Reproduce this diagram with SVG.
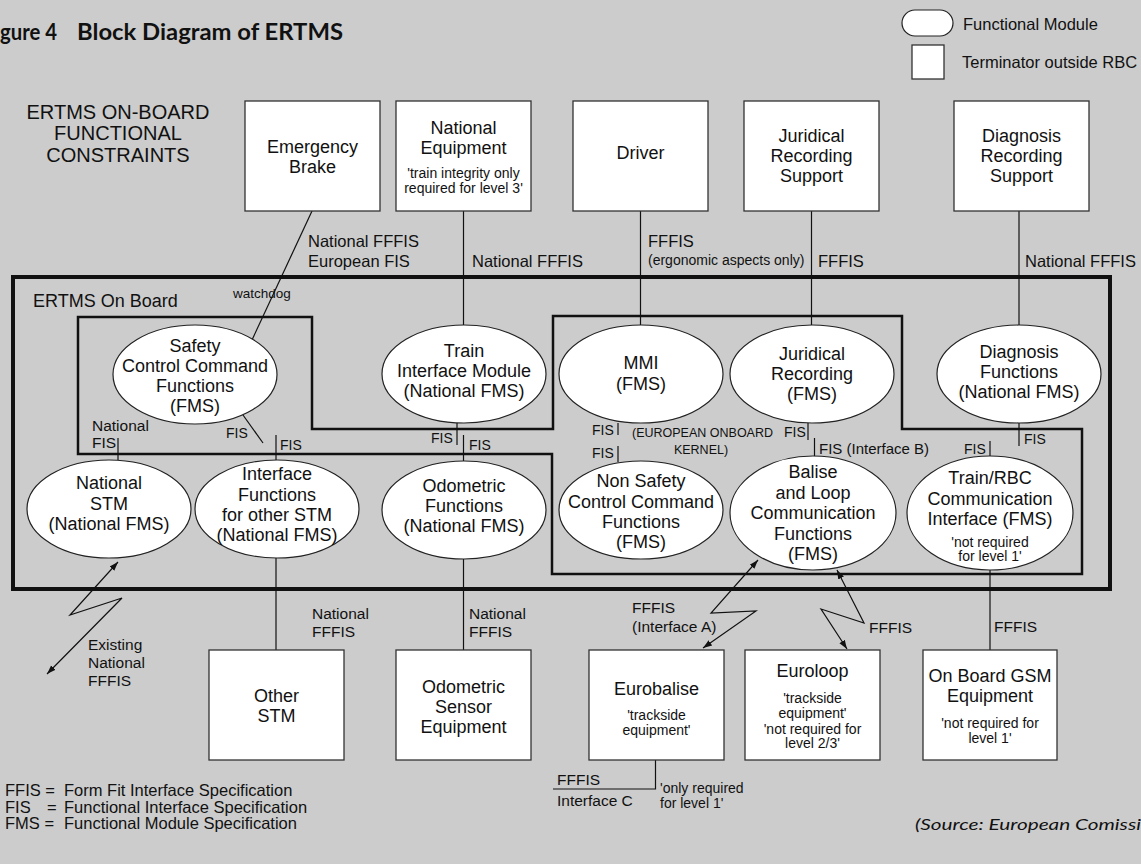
<svg xmlns="http://www.w3.org/2000/svg" width="1141" height="864" viewBox="0 0 1141 864">
<style>
  text { font-family: "Liberation Sans", Arial, sans-serif; fill: #111; }
  .t18 { font-size: 18px; text-anchor: middle; }
  .s14 { font-size: 14px; text-anchor: middle; }
  .lab { font-size: 16.5px; }
  .lab15 { font-size: 15.5px; }
  .fis { font-size: 14px; }
  .reg { font-size: 16.5px; }
  .title { font-family: Lato, "Open Sans", "Liberation Sans", sans-serif; font-weight: bold; font-size: 22px; }
  .src { font-family: Lato, "Open Sans", "Liberation Sans", sans-serif; font-style: italic; font-size: 16px; }
  .box { fill: #fff; stroke: #333; stroke-width: 1.3; }
  .ell { fill: #fff; stroke: #222; stroke-width: 1.2; }
  .con line, .con polyline { stroke: #111; stroke-width: 1.2; fill: none; }
  .arr { marker-start: url(#ah); marker-end: url(#ah); }
</style>
<defs>
  <marker id="ah" viewBox="0 0 10 10" refX="10" refY="5" markerWidth="9" markerHeight="9" markerUnits="userSpaceOnUse" orient="auto-start-reverse">
    <path d="M0,1.5 L10,5 L0,8.5 z" fill="#111"/>
  </marker>
</defs>
<rect x="0" y="0" width="1141" height="864" fill="#cccccc"/>

<g id="title">
  <text class="title" x="0" y="40" textLength="57" lengthAdjust="spacingAndGlyphs">gure 4</text>
  <text class="title" x="77" y="40" textLength="266" lengthAdjust="spacingAndGlyphs">Block Diagram of ERTMS</text>
</g>

<g id="legend">
  <rect x="902" y="10" width="51" height="26" rx="13" ry="13" class="ell"/>
  <text class="reg" x="963" y="30">Functional Module</text>
  <rect x="912" y="45" width="32" height="34" class="box"/>
  <text class="reg" x="962" y="68">Terminator outside RBC</text>
</g>

<g id="constraints-label">
  <text x="118" y="119" font-size="20" text-anchor="middle">ERTMS ON-BOARD</text>
  <text x="118" y="140" font-size="20" text-anchor="middle">FUNCTIONAL</text>
  <text x="118" y="162" font-size="20" text-anchor="middle">CONSTRAINTS</text>
</g>

<g id="onboard-frame">
  <rect x="13" y="277" width="1097" height="312" fill="none" stroke="#111" stroke-width="4"/>
  <text x="33" y="307" font-size="18">ERTMS On Board</text>
  <polygon points="78,317 312,317 312,429 553,429 553,316 902,316 902,429 1082,429 1082,574 552,574 552,454 78,454" fill="none" stroke="#111" stroke-width="2.5"/>
  <text x="702.5" y="437" font-size="12.5" text-anchor="middle">(EUROPEAN ONBOARD</text>
  <text x="701" y="454" font-size="12.5" text-anchor="middle">KERNEL)</text>
</g>

<g id="connectors" class="con">
  <line x1="312" y1="211" x2="252" y2="340"/>
  <line x1="463.5" y1="211" x2="463.5" y2="325"/>
  <line x1="640.5" y1="211" x2="640.5" y2="325"/>
  <line x1="811.5" y1="211" x2="811.5" y2="325"/>
  <line x1="1019" y1="211" x2="1019" y2="325"/>
  <line x1="118" y1="438" x2="118" y2="460"/>
  <line x1="243" y1="415" x2="263" y2="443"/>
  <line x1="276" y1="435" x2="276" y2="460"/>
  <line x1="276" y1="558" x2="276" y2="650"/>
  <line x1="457" y1="423" x2="457" y2="445"/>
  <line x1="463.5" y1="435" x2="463.5" y2="461"/>
  <line x1="463.5" y1="559" x2="463.5" y2="650"/>
  <line x1="618" y1="423" x2="618" y2="435"/>
  <line x1="618" y1="446" x2="618" y2="462"/>
  <line x1="808" y1="423" x2="808" y2="440"/>
  <line x1="814.5" y1="438" x2="814.5" y2="457"/>
  <line x1="1019" y1="423" x2="1019" y2="446"/>
  <line x1="990" y1="441" x2="990" y2="456"/>
  <line x1="990" y1="570" x2="990" y2="650"/>
  <polyline points="655.5,760 655.5,789 553,789"/>
  <polyline class="arr" points="118,562 70,615 122,598 47,674"/>
  <polyline class="arr" points="758,560 711,613 756,611 703,648"/>
  <polyline class="arr" points="837,570 864,623 821,609 847,649"/>
</g>

<g id="connector-labels">
  <text class="lab" x="308" y="247">National FFFIS</text>
  <text class="lab" x="308" y="267">European FIS</text>
  <text x="233" y="298" font-size="13.5">watchdog</text>
  <text class="lab" x="472" y="267">National FFFIS</text>
  <text class="lab" x="648" y="247">FFFIS</text>
  <text x="648" y="265" font-size="14">(ergonomic aspects only)</text>
  <text class="lab" x="818" y="267">FFFIS</text>
  <text class="lab" x="1025" y="267">National FFFIS</text>
  <text class="lab15" x="92" y="431">National</text>
  <text class="lab15" x="92" y="448">FIS</text>
  <text class="fis" x="226" y="438">FIS</text>
  <text class="fis" x="280" y="450">FIS</text>
  <text class="fis" x="431" y="443">FIS</text>
  <text class="fis" x="469" y="450">FIS</text>
  <text class="fis" x="592" y="435">FIS</text>
  <text class="fis" x="592" y="458">FIS</text>
  <text class="fis" x="784" y="437">FIS</text>
  <text x="819" y="454" font-size="15">FIS (Interface B)</text>
  <text class="fis" x="964" y="454">FIS</text>
  <text class="fis" x="1024" y="444">FIS</text>
  <text class="lab15" x="88" y="650">Existing</text>
  <text class="lab15" x="88" y="668">National</text>
  <text class="lab15" x="88" y="686">FFFIS</text>
  <text class="lab15" x="312" y="619">National</text>
  <text class="lab15" x="312" y="637">FFFIS</text>
  <text class="lab15" x="469" y="619">National</text>
  <text class="lab15" x="469" y="637">FFFIS</text>
  <text class="lab15" x="632" y="613">FFFIS</text>
  <text class="lab15" x="632" y="632">(Interface A)</text>
  <text class="lab15" x="869" y="633">FFFIS</text>
  <text class="lab15" x="994" y="632">FFFIS</text>
  <text class="lab15" x="557" y="785">FFFIS</text>
  <text class="lab15" x="557" y="806">Interface C</text>
  <text x="660" y="793" font-size="14">'only required</text>
  <text x="660" y="808" font-size="14">for level 1'</text>
</g>

<g id="emergency-brake">
  <rect x="245" y="101" width="135" height="110" class="box"/>
  <text class="t18" x="312.5" y="153">Emergency</text>
  <text class="t18" x="312.5" y="173">Brake</text>
</g>
<g id="national-equipment">
  <rect x="396" y="101" width="135" height="110" class="box"/>
  <text class="t18" x="463.5" y="134">National</text>
  <text class="t18" x="463.5" y="154">Equipment</text>
  <text class="s14" x="463.5" y="178">'train integrity only</text>
  <text class="s14" x="463.5" y="193">required for level 3'</text>
</g>
<g id="driver">
  <rect x="573" y="101" width="135" height="110" class="box"/>
  <text class="t18" x="640.5" y="159">Driver</text>
</g>
<g id="juridical-recording-support">
  <rect x="744" y="101" width="135" height="110" class="box"/>
  <text class="t18" x="811.5" y="142">Juridical</text>
  <text class="t18" x="811.5" y="162">Recording</text>
  <text class="t18" x="811.5" y="182">Support</text>
</g>
<g id="diagnosis-recording-support">
  <rect x="954" y="101" width="135" height="110" class="box"/>
  <text class="t18" x="1021.5" y="142">Diagnosis</text>
  <text class="t18" x="1021.5" y="162">Recording</text>
  <text class="t18" x="1021.5" y="182">Support</text>
</g>

<g id="safety-control">
  <ellipse cx="195" cy="374.5" rx="82" ry="49.5" class="ell"/>
  <text class="t18" x="195" y="352">Safety</text>
  <text class="t18" x="195" y="372">Control Command</text>
  <text class="t18" x="195" y="392">Functions</text>
  <text class="t18" x="195" y="412">(FMS)</text>
</g>
<g id="train-interface">
  <ellipse cx="464" cy="374" rx="82" ry="49" class="ell"/>
  <text class="t18" x="464" y="357">Train</text>
  <text class="t18" x="464" y="377">Interface Module</text>
  <text class="t18" x="464" y="397">(National FMS)</text>
</g>
<g id="mmi">
  <ellipse cx="641" cy="374" rx="82" ry="49" class="ell"/>
  <text class="t18" x="641" y="369">MMI</text>
  <text class="t18" x="641" y="390">(FMS)</text>
</g>
<g id="juridical-recording">
  <ellipse cx="812" cy="374" rx="82" ry="49" class="ell"/>
  <text class="t18" x="812" y="360">Juridical</text>
  <text class="t18" x="812" y="380">Recording</text>
  <text class="t18" x="812" y="400">(FMS)</text>
</g>
<g id="diagnosis-functions">
  <ellipse cx="1019" cy="374" rx="82" ry="49" class="ell"/>
  <text class="t18" x="1019" y="358">Diagnosis</text>
  <text class="t18" x="1019" y="378">Functions</text>
  <text class="t18" x="1019" y="398">(National FMS)</text>
</g>
<g id="national-stm">
  <ellipse cx="109" cy="509" rx="82" ry="49" class="ell"/>
  <text class="t18" x="109" y="489">National</text>
  <text class="t18" x="109" y="510">STM</text>
  <text class="t18" x="109" y="530">(National FMS)</text>
</g>
<g id="interface-functions">
  <ellipse cx="277" cy="509" rx="82" ry="49" class="ell"/>
  <text class="t18" x="277" y="480">Interface</text>
  <text class="t18" x="277" y="501">Functions</text>
  <text class="t18" x="277" y="521">for other STM</text>
  <text class="t18" x="277" y="541">(National FMS)</text>
</g>
<g id="odometric-functions">
  <ellipse cx="464" cy="510" rx="82" ry="49" class="ell"/>
  <text class="t18" x="464" y="492">Odometric</text>
  <text class="t18" x="464" y="512">Functions</text>
  <text class="t18" x="464" y="532">(National FMS)</text>
</g>
<g id="non-safety-control">
  <ellipse cx="641" cy="510" rx="82" ry="49" class="ell"/>
  <text class="t18" x="641" y="487">Non Safety</text>
  <text class="t18" x="641" y="508">Control Command</text>
  <text class="t18" x="641" y="528">Functions</text>
  <text class="t18" x="641" y="548">(FMS)</text>
</g>
<g id="balise-loop">
  <ellipse cx="813" cy="513" rx="83" ry="57" class="ell"/>
  <text class="t18" x="813" y="478">Balise</text>
  <text class="t18" x="813" y="499">and Loop</text>
  <text class="t18" x="813" y="519">Communication</text>
  <text class="t18" x="813" y="540">Functions</text>
  <text class="t18" x="813" y="560">(FMS)</text>
</g>
<g id="train-rbc">
  <ellipse cx="990" cy="513" rx="83" ry="57" class="ell"/>
  <text class="t18" x="990" y="484">Train/RBC</text>
  <text class="t18" x="990" y="505">Communication</text>
  <text class="t18" x="990" y="525">Interface (FMS)</text>
  <text class="s14" x="990" y="547">'not required</text>
  <text class="s14" x="990" y="561">for level 1'</text>
</g>

<g id="other-stm">
  <rect x="209" y="650" width="135" height="110" class="box"/>
  <text class="t18" x="276.5" y="702">Other</text>
  <text class="t18" x="276.5" y="722">STM</text>
</g>
<g id="odometric-sensor">
  <rect x="396" y="650" width="135" height="110" class="box"/>
  <text class="t18" x="463.5" y="693">Odometric</text>
  <text class="t18" x="463.5" y="713">Sensor</text>
  <text class="t18" x="463.5" y="733">Equipment</text>
</g>
<g id="eurobalise">
  <rect x="589" y="650" width="135" height="110" class="box"/>
  <text class="t18" x="656.5" y="695">Eurobalise</text>
  <text class="s14" x="656.5" y="720">'trackside</text>
  <text class="s14" x="656.5" y="735">equipment'</text>
</g>
<g id="euroloop">
  <rect x="745" y="650" width="135" height="110" class="box"/>
  <text class="t18" x="812.5" y="677">Euroloop</text>
  <text class="s14" x="812.5" y="703">'trackside</text>
  <text class="s14" x="812.5" y="718">equipment'</text>
  <text class="s14" x="812.5" y="734">'not required for</text>
  <text class="s14" x="812.5" y="748">level 2/3'</text>
</g>
<g id="gsm">
  <rect x="923" y="650" width="134" height="110" class="box"/>
  <text class="t18" x="990" y="682">On Board GSM</text>
  <text class="t18" x="990" y="702">Equipment</text>
  <text class="s14" x="990" y="728">'not required for</text>
  <text class="s14" x="990" y="743">level 1'</text>
</g>

<g id="abbreviations">
  <text class="reg" x="5" y="796">FFIS =</text>
  <text class="reg" x="64" y="796">Form Fit Interface Specification</text>
  <text class="reg" x="5" y="813">FIS</text>
  <text class="reg" x="47" y="813">=</text>
  <text class="reg" x="64" y="813">Functional Interface Specification</text>
  <text class="reg" x="5" y="829">FMS =</text>
  <text class="reg" x="64" y="829">Functional Module Specification</text>
</g>

<g id="source">
  <text class="src" x="915" y="830" textLength="226" lengthAdjust="spacingAndGlyphs">(Source: European Comissi</text>
</g>
</svg>
